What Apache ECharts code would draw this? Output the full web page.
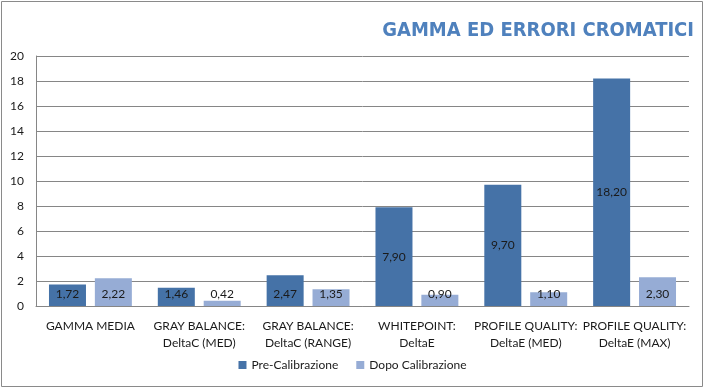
<!DOCTYPE html>
<html><head><meta charset="utf-8">
<script src="https://cdn.jsdelivr.net/npm/echarts@6/dist/echarts.min.js"></script>
<style>html,body{margin:0;padding:0;background:#fff}#c{width:705px;height:390px}</style>
</head><body><div id="c"></div>
<script>
const categories = ['GAMMA MEDIA','GRAY BALANCE:\nDeltaC (MED)','GRAY BALANCE:\nDeltaC (RANGE)','WHITEPOINT:\nDeltaE','PROFILE QUALITY:\nDeltaE (MED)','PROFILE QUALITY:\nDeltaE (MAX)'];
const preCalibrazione = [1.72,1.46,2.47,7.90,9.70,18.20];
const dopoCalibrazione = [2.22,0.42,1.35,0.90,1.10,2.30];
const seriesNames = ['Pre-Calibrazione','Dopo Calibrazione'];
const titleText = 'GAMMA ED ERRORI CROMATICI';

const FONT = 'Lato';
function mkData(arr){
  return arr.map(v => ({
    value: v,
    label: v < 3 ? {position:'insideBottom', distance:6} : {position:'inside'}
  }));
}
const lbl = {show:true, color:'#1a1a1a', fontFamily:FONT, fontSize:12,
  formatter: p => p.value.toFixed(2).replace('.', ',')};

const chart = echarts.init(document.getElementById('c'), null, {renderer:'canvas'});
chart.setOption({
  animation:false,
  graphic:[{type:'rect', shape:{x:1.5,y:1.5,width:701,height:385}, style:{fill:'none', stroke:'#8a8a8a', lineWidth:1}, silent:true}],
  title:{text:titleText, right:6, top:16, textStyle:{color:'#4f81bd', fontFamily:'"DejaVu Sans Condensed", Roboto, sans-serif', fontWeight:'bold', fontSize:20}},
  legend:{data:seriesNames, bottom:14, left:'center', itemWidth:8, itemHeight:8, itemGap:18,
    icon:'rect', textStyle:{fontFamily:FONT, fontSize:12, color:'#1a1a1a'}},
  grid:{left:36, right:16, top:56, bottom:84, containLabel:false},
  xAxis:{type:'category', data:categories,
    axisLine:{lineStyle:{color:'#868686'}}, axisTick:{show:false},
    axisLabel:{fontFamily:FONT, fontSize:12, color:'#1a1a1a', margin:12, lineHeight:17, interval:0}},
  yAxis:{type:'value', min:0, max:20, interval:2,
    axisLine:{show:true, lineStyle:{color:'#868686'}}, axisTick:{show:false},
    splitLine:{lineStyle:{color:'#868686'}},
    axisLabel:{fontFamily:FONT, fontSize:12, color:'#1a1a1a', margin:12}},
  series:[
    {name:seriesNames[0], type:'bar', data:mkData(preCalibrazione), itemStyle:{color:'#4572a7'},
     barWidth:37, barGap:'24%', label:lbl},
    {name:seriesNames[1], type:'bar', data:mkData(dopoCalibrazione), itemStyle:{color:'#96acd5'},
     barWidth:37, label:lbl}
  ]
});
</script></body></html>
